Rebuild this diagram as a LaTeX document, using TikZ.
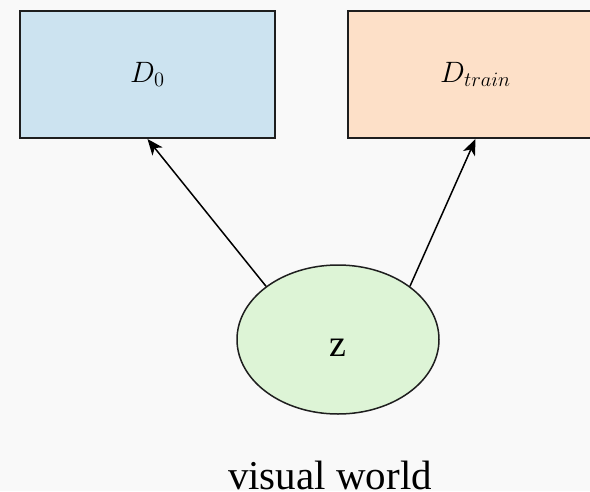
\documentclass[tikz,border=0pt]{standalone}
\usepackage{fontspec}
\setmainfont{Liberation Serif}
\usetikzlibrary{arrows.meta,shapes.geometric}
\definecolor{bgwhite}{RGB}{249,249,249}
\definecolor{boxblue}{RGB}{204,227,240}
\definecolor{boxpeach}{RGB}{253,224,200}
\definecolor{ellgreen}{RGB}{221,244,214}
\definecolor{edge}{RGB}{30,30,30}
% math labels at a size beyond the largest fixed math font size
\newcommand{\biglabel}[1]{\scalebox{1.42}{\fontsize{20.74}{24}\selectfont$#1$}}
\tikzset{
  databox/.style={draw=edge, line width=2pt, rectangle, minimum width=255pt, minimum height=127pt, inner sep=0pt},
  latent/.style={draw=edge, line width=1.5pt, ellipse, minimum width=202pt, minimum height=149pt, inner sep=0pt, fill=ellgreen, text height=33pt, text depth=0pt, font=\fontsize{38}{42}\selectfont},
  link/.style={draw=black, line width=1.5pt},
  linktip/.tip={Stealth[length=16pt,width=13pt,inset=4.5pt]},
}
\begin{document}
\begin{tikzpicture}[x=1pt,y=-1pt]
  \useasboundingbox (0,0) rectangle (590,491);
  \clip (0,0) rectangle (590,491);
  \fill[bgwhite] (0,0) rectangle (590,491);
  % observed data sets
  \node[databox, fill=boxblue] (d0) at (147.5,74.5) {\biglabel{D_0}};
  \node[databox, fill=boxpeach] (dtrain) at (475.5,74.5) {\biglabel{D_{train}}};
  % latent variable
  \node[latent] (z) at (338,339.5) {z};
  \node[font=\fontsize{41}{45}\selectfont, anchor=base] (world) at (330,489) {visual world};
  % generative links
  \draw[link, -linktip] (z.north west) -- (d0.south);
  \draw[link, -linktip] (z.north east) -- (dtrain.south);
\end{tikzpicture}
\end{document}
